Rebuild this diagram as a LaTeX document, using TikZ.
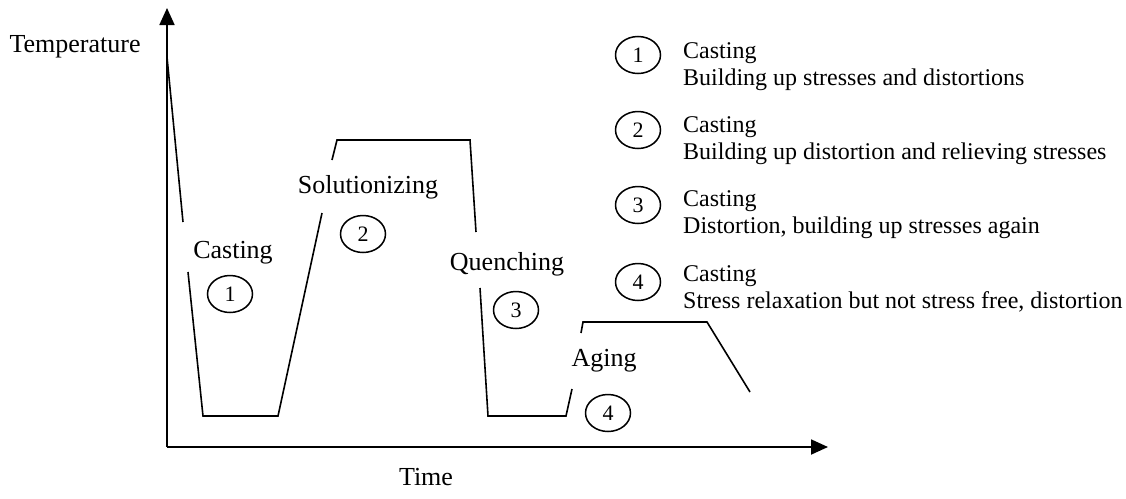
\documentclass[tikz,border=0pt]{standalone}
\usepackage{fontspec}
\setmainfont{Liberation Serif}
\usetikzlibrary{arrows.meta}
\tikzset{
  num/.style={draw,ellipse,line width=1.5pt,minimum width=45pt,minimum height=37pt,inner sep=0pt,font=\fontsize{22}{26}\selectfont},
  lbl/.style={inner sep=0pt},
  legtxt/.style={anchor=west,align=left,inner sep=0pt,font=\fontsize{24}{27}\selectfont},
}
\usetikzlibrary{shapes.geometric}
\begin{document}
\begin{tikzpicture}[line cap=butt,line join=miter,x=1pt,y=-1pt,font=\fontsize{26}{30}\selectfont]
		\useasboundingbox (0,0) rectangle (1126,498);
		% axes
		\coordinate (O) at (167,447);
		\coordinate (ytop) at (167,8);
		\coordinate (xend) at (828,447);
		\draw [line width=1.8pt,-{Triangle[length=17pt,width=15pt]}] (O)-- (ytop);
		\draw [line width=1.8pt,-{Triangle[length=17pt,width=15pt]}] (O)-- (xend);
		\node[lbl] (temp) at (75,47) {Temperature};
		\node[lbl] (time) at (426,477) {Time};
		% temperature path
		\begin{scope}[line width=1.6pt]
		\draw (167,57)-- (183,222);
		\draw (188,272)-- (203,416)-- (278,416)-- (322,213);
		\draw (332,160)-- (337,140)-- (470,140)-- (476,232);
		\draw (480,288)-- (488,416)-- (566,416)-- (572,389);
		\draw (581,333)-- (583,322)-- (707,322)-- (750,392);
		\end{scope}
		% steps
		\node[lbl] (cast) at (233,253) {Casting};
		\node[num] (n1) at (230,294) {1};
		\node[lbl] (sol) at (368,187) {Solutionizing};
		\node[num] (n2) at (363,234) {2};
		\node[lbl] (quen) at (507,264) {Quenching};
		\node[num] (n3) at (516,310) {3};
		\node[lbl] (age) at (604,361) {Aging};
		\node[num] (n4) at (608,413) {4};
		% legend
		\node[num] (k1) at (638,55) {1};
		\node[legtxt] (leg1) at (683,66.5) {Casting\\Building up stresses and distortions};
		\node[num] (k2) at (638,130) {2};
		\node[legtxt] (leg2) at (683,140.5) {Casting\\Building up distortion and relieving stresses};
		\node[num] (k3) at (638,205) {3};
		\node[legtxt] (leg3) at (683,215) {Casting\\Distortion, building up stresses again};
		\node[num] (k4) at (638,282) {4};
		\node[legtxt] (leg4) at (683,289) {Casting\\Stress relaxation but not stress free, distortion};
		\end{tikzpicture}
\end{document}
